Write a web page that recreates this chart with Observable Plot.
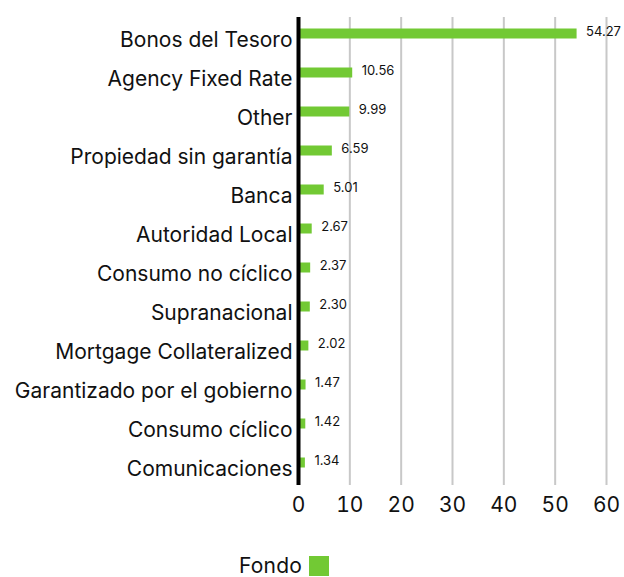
<!DOCTYPE html>
<html>
<head>
<meta charset="utf-8">
<script src="https://cdn.jsdelivr.net/npm/d3@7"></script>
<script src="https://cdn.jsdelivr.net/npm/@observablehq/plot@0.6"></script>
<style>
  body { margin: 0; background: #fff; font-family: Inter, "Noto Sans", sans-serif; }
  #chart { width: 624px; }
  #legend { display: flex; align-items: flex-end; padding-left: 239px; margin-top: 15px; font-size: 21px; letter-spacing: 0.2px; color: #111; line-height: 21px; }
  #legend .sw { width: 20px; height: 20px; background: #72c934; margin-left: 7px; }
</style>
</head>
<body>
<div id="chart"></div>
<div id="legend"><span>Fondo</span><span class="sw"></span></div>
<script>
const categories = [
  "Bonos del Tesoro", "Agency Fixed Rate", "Other", "Propiedad sin garantía", "Banca",
  "Autoridad Local", "Consumo no cíclico", "Supranacional", "Mortgage Collateralized",
  "Garantizado por el gobierno", "Consumo cíclico", "Comunicaciones"
];
const values = [54.27, 10.56, 9.99, 6.59, 5.01, 2.67, 2.37, 2.30, 2.02, 1.47, 1.42, 1.34];
const xTicks = [0, 10, 20, 30, 40, 50, 60];
const seriesName = "Fondo";

const data = categories.map((c, i) => ({category: c, value: values[i]}));

const chart = Plot.plot({
  width: 624,
  height: 540,
  marginLeft: 298,
  marginRight: 18,
  marginTop: 17,
  marginBottom: 55,
  style: {fontFamily: "Inter, 'Noto Sans', sans-serif", background: "#fff"},
  x: {domain: [0, 60], ticks: xTicks, label: null},
  y: {domain: categories, padding: 0, label: null},
  marks: [
    Plot.gridX(xTicks.slice(1), {stroke: "#c8c8c8", strokeOpacity: 1, strokeWidth: 2}),
    Plot.barX(data, {x: "value", y: "category", fill: "#72c934", insetTop: 11.5, insetBottom: 17.5}),
    Plot.text(data, {x: "value", y: "category", text: d => d.value.toFixed(2), textAnchor: "start", dx: 9, dy: -5, fontSize: 13, fill: "#111"}),
    Plot.ruleX([0], {stroke: "#000", strokeWidth: 4}),
    Plot.axisY({tickSize: 0, tickPadding: 6, fontSize: 21, dy: 3, fill: "#111", label: null, style: "letter-spacing:0.2px"}),
    Plot.axisX({ticks: xTicks, tickSize: 0, tickPadding: 12, fontSize: 21, fill: "#111", label: null})
  ]
});
document.getElementById("chart").appendChild(chart);
</script>
</body>
</html>
